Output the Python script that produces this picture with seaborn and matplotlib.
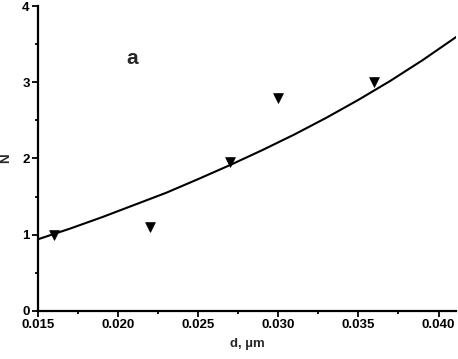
import matplotlib
matplotlib.use("Agg")
import matplotlib.pyplot as plt
import seaborn as sns
import pandas as pd
from matplotlib.ticker import MultipleLocator, FormatStrFormatter

# measured points
d_points = [0.016, 0.022, 0.027, 0.030, 0.036]
n_points = [1.00, 1.10, 1.96, 2.80, 3.00]

# fitted curve
d_curve = [0.015, 0.017, 0.019, 0.021, 0.023, 0.025, 0.027, 0.029, 0.031,
           0.033, 0.035, 0.037, 0.039, 0.041, 0.0411]
n_curve = [0.94, 1.08, 1.23, 1.39, 1.55, 1.73, 1.915, 2.11, 2.315,
           2.535, 2.77, 3.02, 3.29, 3.58, 3.595]

x_ticks = [0.015, 0.020, 0.025, 0.030, 0.035, 0.040]
y_ticks = [0, 1, 2, 3, 4]

sns.set_theme(style="ticks")
plt.rcParams['font.family'] = ['Liberation Sans', 'DejaVu Sans']

fig = plt.figure(figsize=(4.58, 3.59), dpi=100)
ax = fig.add_axes([0.083, 0.134, 0.913, 0.849])

pts = pd.DataFrame({"d": d_points, "N": n_points})
crv = pd.DataFrame({"d": d_curve, "N": n_curve})

sns.lineplot(data=crv, x="d", y="N", ax=ax, color="black", linewidth=1.5, sort=True)
sns.scatterplot(data=pts, x="d", y="N", ax=ax, marker="v", color="black", s=50,
                edgecolor="black", linewidth=0.5, zorder=5)

ax.set_xlim(0.015, 0.0411)
ax.set_ylim(0, 4)
ax.set_xticks(x_ticks)
ax.set_yticks(y_ticks)
ax.xaxis.set_major_formatter(FormatStrFormatter('%.3f'))
ax.xaxis.set_minor_locator(MultipleLocator(0.0025))
ax.yaxis.set_minor_locator(MultipleLocator(0.5))

for s in ["top", "right"]:
    ax.spines[s].set_visible(False)
for s in ["left", "bottom"]:
    ax.spines[s].set_linewidth(1.6)
    ax.spines[s].set_color("black")

ax.tick_params(which="major", direction="out", length=4, width=1.3, colors="black",
               labelsize=9.5, pad=2)
ax.tick_params(which="minor", direction="out", length=2.5, width=1.3, colors="black")
for lab in ax.get_xticklabels() + ax.get_yticklabels():
    lab.set_fontweight("bold")

ax.set_xlabel("d, µm", fontsize=9.5, fontweight="bold", labelpad=5)
ax.set_ylabel("N", fontsize=9.5, fontweight="bold", labelpad=7)

ax.text(0.0209, 3.31, "a", fontsize=15, fontweight="bold", ha="center", va="center")

fig.savefig("out.png", dpi=100)
